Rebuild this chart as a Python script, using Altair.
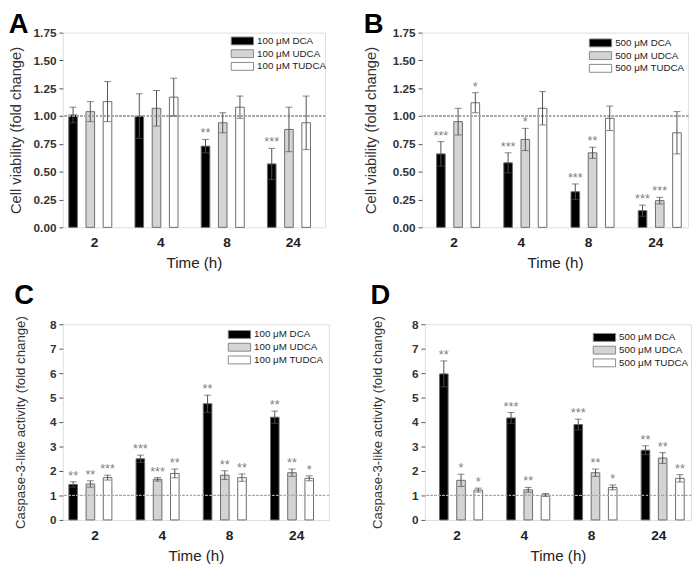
import altair as alt
import pandas as pd

FONT = "Liberation Sans"
times = ["2", "4", "8", "24"]

# ---------- Panel A: cell viability, 100 uM ----------
a_labels = ["100 μM DCA", "100 μM UDCA", "100 μM TUDCA"]
a_dca = [1.01, 1.00, 0.73, 0.57]
a_dca_err = [0.07, 0.20, 0.06, 0.14]
a_udca = [1.04, 1.07, 0.94, 0.88]
a_udca_err = [0.09, 0.16, 0.09, 0.20]
a_tudca = [1.13, 1.17, 1.08, 0.94]
a_tudca_err = [0.18, 0.17, 0.10, 0.24]
a_dca_sig = ["", "", "**", "***"]
a_udca_sig = ["", "", "", ""]
a_tudca_sig = ["", "", "", ""]

# ---------- Panel B: cell viability, 500 uM ----------
b_labels = ["500 μM DCA", "500 μM UDCA", "500 μM TUDCA"]
b_dca = [0.66, 0.58, 0.32, 0.15]
b_dca_err = [0.11, 0.09, 0.07, 0.05]
b_udca = [0.95, 0.79, 0.67, 0.24]
b_udca_err = [0.12, 0.10, 0.05, 0.03]
b_tudca = [1.12, 1.07, 0.98, 0.85]
b_tudca_err = [0.09, 0.15, 0.11, 0.19]
b_dca_sig = ["***", "***", "***", "***"]
b_udca_sig = ["", "*", "**", "***"]
b_tudca_sig = ["*", "", "", ""]

# ---------- Panel C: caspase-3, 100 uM ----------
c_labels = ["100 μM DCA", "100 μM UDCA", "100 μM TUDCA"]
c_dca = [1.45, 2.50, 4.75, 4.20]
c_dca_err = [0.11, 0.15, 0.35, 0.25]
c_udca = [1.47, 1.66, 1.83, 1.93]
c_udca_err = [0.13, 0.07, 0.18, 0.15]
c_tudca = [1.73, 1.90, 1.73, 1.70]
c_tudca_err = [0.10, 0.18, 0.15, 0.10]
c_dca_sig = ["**", "***", "**", "**"]
c_udca_sig = ["**", "***", "**", "**"]
c_tudca_sig = ["***", "**", "**", "*"]

# ---------- Panel D: caspase-3, 500 uM ----------
d_labels = ["500 μM DCA", "500 μM UDCA", "500 μM TUDCA"]
d_dca = [5.97, 4.17, 3.90, 2.85]
d_dca_err = [0.53, 0.22, 0.22, 0.18]
d_udca = [1.62, 1.23, 1.93, 2.53]
d_udca_err = [0.25, 0.10, 0.15, 0.22]
d_tudca = [1.22, 1.02, 1.33, 1.70]
d_tudca_err = [0.08, 0.06, 0.10, 0.15]
d_dca_sig = ["**", "***", "***", "**"]
d_udca_sig = ["*", "**", "**", "**"]
d_tudca_sig = ["*", "", "*", "**"]

fills = ["#000000", "#d4d4d4", "#ffffff"]


def panel(letter, labels, vals, errs, sigs, ytitle, ymax, ystep, yfmt, ytfs, ytpad,
          W, H, toff, lx, ly):
    rows = []
    for lab, v, e, g in zip(labels, vals, errs, sigs):
        for i, t in enumerate(times):
            rows.append(dict(time=t, series=lab, value=v[i],
                             lo=v[i] - e[i], hi=v[i] + e[i], sig=g[i]))
    df = pd.DataFrame(rows)
    nt = int(round(ymax / ystep))
    yvals = [round(k * ystep, 2) for k in range(nt + 1)]
    yscale = alt.Scale(domain=[0, ymax], nice=False, zero=True)
    yaxis = alt.Axis(values=yvals, format=yfmt, grid=False, domain=False,
                     labelOverlap=False, tickSize=4, tickColor="#555",
                     labelFont=FONT, labelFontSize=12,
                     labelFontWeight="bold", labelColor="#333", labelPadding=3,
                     titleFont=FONT, titleFontSize=ytfs, titleFontWeight="normal",
                     titleColor="#333", titlePadding=ytpad)
    xaxis = alt.Axis(labelAngle=0, ticks=False, domain=False, labelFont=FONT,
                     labelFontSize=14, labelFontWeight="bold", labelColor="#222",
                     labelPadding=9, titleFont=FONT, titleFontSize=15.5,
                     titleFontWeight="normal", titleColor="#222", titlePadding=6)
    x = alt.X("time:N", sort=times, title="Time (h)", axis=xaxis,
              scale=alt.Scale(paddingInner=0.22, paddingOuter=0.09))
    xo = alt.XOffset("series:N", sort=labels,
                     scale=alt.Scale(paddingInner=0, paddingOuter=0))
    base = alt.Chart(df)
    bars = base.mark_bar(stroke="#6a6a6a", strokeWidth=1).encode(
        x=x, xOffset=xo,
        y=alt.Y("value:Q", scale=yscale, axis=yaxis, title=ytitle),
        fill=alt.Fill("series:N", sort=labels,
                      scale=alt.Scale(domain=labels, range=fills),
                      legend=alt.Legend(title=None, orient="none", legendX=lx, legendY=ly,
                                        symbolType="M-1.9,-0.67H1.9V0.67H-1.9Z",
                                        symbolSize=144, symbolStrokeColor="#888",
                                        symbolStrokeWidth=1, labelFont=FONT,
                                        labelFontSize=10, labelColor="#222",
                                        labelOffset=8.5, rowPadding=0, padding=2)),
    )
    one = alt.Chart(df).mark_rule(color="#a8a8a8", strokeDash=[2, 2], strokeWidth=1).encode(
        y=alt.datum(1.0, scale=yscale, axis=yaxis, title=ytitle)
    )
    err = base.mark_rule(color="#505050", strokeWidth=1).encode(
        x=x, xOffset=xo,
        y=alt.Y("lo:Q", scale=yscale, axis=yaxis, title=ytitle), y2="hi:Q",
    )
    cap_hi = base.mark_tick(color="#505050", thickness=1, size=7).encode(
        x=x, xOffset=xo, y=alt.Y("hi:Q", scale=yscale, axis=yaxis, title=ytitle))
    cap_lo = base.mark_tick(color="#505050", thickness=1, size=7).encode(
        x=x, xOffset=xo, y=alt.Y("lo:Q", scale=yscale, axis=yaxis, title=ytitle))
    stars = base.mark_text(color="#808080", fontSize=13, font=FONT,
                           baseline="alphabetic", dy=-2).encode(
        x=x, xOffset=xo, y=alt.Y("hi:Q", scale=yscale, axis=yaxis, title=ytitle),
        text="sig:N")
    return alt.layer(bars, one, err, cap_hi, cap_lo, stars).properties(
        width=W, height=H,
        title=alt.TitleParams(letter, anchor="start", frame="bounds", fontSize=28,
                              fontWeight="bold", font=FONT, color="#000", offset=toff),
    )


pA = panel("A", a_labels, [a_dca, a_udca, a_tudca], [a_dca_err, a_udca_err, a_tudca_err],
           [a_dca_sig, a_udca_sig, a_tudca_sig], "Cell viability (fold change)",
           1.75, 0.25, ".2f", 15, 10, 268, 199, -12, 175, 0)
pB = panel("B", b_labels, [b_dca, b_udca, b_tudca], [b_dca_err, b_udca_err, b_tudca_err],
           [b_dca_sig, b_udca_sig, b_tudca_sig], "Cell viability (fold change)",
           1.75, 0.25, ".2f", 15, 14, 272, 199, -12, 174, 2)
pC = panel("C", c_labels, [c_dca, c_udca, c_tudca], [c_dca_err, c_udca_err, c_tudca_err],
           [c_dca_sig, c_udca_sig, c_tudca_sig], "Caspase-3-like activity (fold change)",
           8, 1, "d", 13.5, 22, 272, 200, 6, 172, 2)
pD = panel("D", d_labels, [d_dca, d_udca, d_tudca], [d_dca_err, d_udca_err, d_tudca_err],
           [d_dca_sig, d_udca_sig, d_tudca_sig], "Caspase-3-like activity (fold change)",
           8, 1, "d", 13.5, 28, 272, 200, 6, 175, 5)

row1 = alt.hconcat(pA, pB, spacing=34).resolve_scale(fill="independent")
row2 = alt.hconcat(pC, pD, spacing=40).resolve_scale(fill="independent")
chart = alt.vconcat(row1, row2, spacing=10).resolve_scale(fill="independent").properties(
    padding={"top": -4, "left": 0, "right": 0, "bottom": 0}
).configure_view(stroke="#6a6a6a", strokeWidth=1).configure(background="white")

chart.save("out.html", embed_options={"renderer": "svg", "actions": False})
